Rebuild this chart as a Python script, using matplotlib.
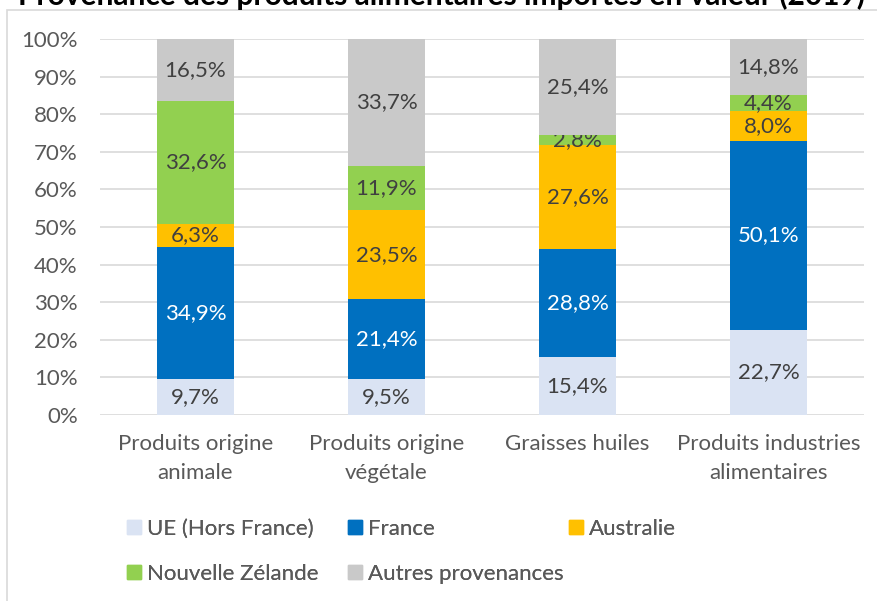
import matplotlib
matplotlib.use("Agg")
import matplotlib.pyplot as plt
from matplotlib.patches import Rectangle, Patch
import numpy as np

plt.rcParams['font.family'] = ['Lato', 'DejaVu Sans']

title = "Provenance des produits alimentaires importés en valeur (2019)"
categories = ["Produits origine\nanimale", "Produits origine\nvégétale",
              "Graisses huiles", "Produits industries\nalimentaires"]
series = ["UE (Hors France)", "France", "Australie", "Nouvelle Zélande", "Autres provenances"]
ue = [9.7, 9.5, 15.4, 22.7]
france = [34.9, 21.4, 28.8, 50.1]
australie = [6.3, 23.5, 27.6, 8.0]
nz = [32.6, 11.9, 2.8, 4.4]
autres = [16.5, 33.7, 25.4, 14.8]
yticks = [0, 10, 20, 30, 40, 50, 60, 70, 80, 90, 100]

values = [ue, france, australie, nz, autres]
colors = ["#DAE3F3", "#0070C0", "#FFC000", "#92D050", "#C9C9C9"]
textcolors = ["#404040", "white", "#404040", "#404040", "#404040"]
FS = 16

fig = plt.figure(figsize=(8.78, 6.01), dpi=100)
ax = fig.add_axes([100/878, 1-415/601, 764/878, 376/601])

x = np.arange(len(categories))
bottom = np.zeros(len(categories))
for vals, c, tc, name in zip(values, colors, textcolors, series):
    v = np.array(vals)
    bars = ax.bar(x, v, 0.4, bottom=bottom, color=c, label=name, zorder=3)
    labels = [f"{val:.1f}%".replace(".", ",") for val in v]
    ax.bar_label(bars, labels=labels, label_type='center', color=tc, fontsize=FS)
    bottom += v

ax.set_xlim(-0.5, len(categories) - 0.5)
ax.set_ylim(0, 100)
ax.set_yticks(yticks)
ax.set_yticklabels([f"{t}%" for t in yticks], color="#595959", fontsize=FS)
ax.set_xticks(x)
ax.set_xticklabels(categories, color="#595959", fontsize=FS, linespacing=1.55)
ax.tick_params(axis='both', length=0)
ax.tick_params(axis='x', pad=14)
ax.tick_params(axis='y', pad=16)
ax.grid(axis='y', color="#D9D9D9", linewidth=1.2, zorder=0)
for s in ax.spines.values():
    s.set_visible(False)

# chart frame
fig.patches.append(Rectangle((7/878, -0.1), 1.2, 1.1 - 10/601, transform=fig.transFigure,
                             fill=False, edgecolor="#D9D9D9", linewidth=1.2))

fig.text(0.503, 1-5/601, title, ha='center', va='baseline', fontsize=21.5,
         fontweight='bold', color='black')

# legend entries, placed Excel-like in fixed columns
pos = [(127, 529), (348, 529), (569, 529), (127, 574), (348, 574)]
for (px, py), c, name in zip(pos, colors, series):
    leg = fig.legend(handles=[Patch(color=c, label=name)], loc='center left',
                     bbox_to_anchor=(px/878, 1 - py/601), frameon=False,
                     fontsize=FS, handlelength=0.63, handleheight=0.63,
                     handletextpad=0.27, borderpad=0, borderaxespad=0,
                     labelcolor="#595959")
    fig.add_artist(leg)

fig.savefig("out.png", dpi=100)
